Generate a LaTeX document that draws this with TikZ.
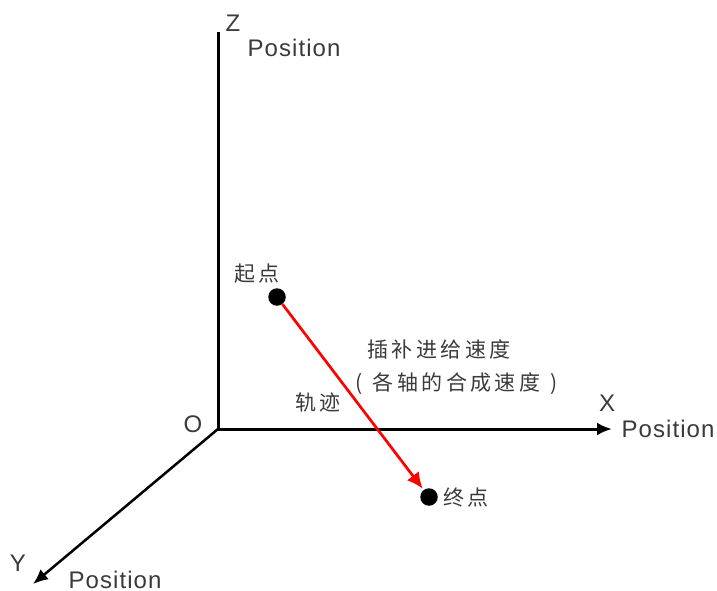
\documentclass[tikz,border=0pt]{standalone}
\usepackage{fontspec}
\setmainfont[LetterSpace=4.5]{Liberation Sans}
\newfontfamily\cjkfont[LetterSpace=16]{Noto Sans CJK SC}
\usepackage{tikz}
\usetikzlibrary{positioning,arrows.meta}
\definecolor{labelgray}{HTML}{3A3A3A}
\tikzset{
axisline/.style={line width=3pt,black,-{Latex[length=15pt,width=13pt]}},
axisnoarrow/.style={line width=3pt,black},
trajline/.style={line width=2.7pt,red,shorten >=1.5pt,-{Latex[length=16pt,width=15pt]}},
pointdot/.style={circle,fill=black,minimum size=17.5pt,inner sep=0pt},
axislabel/.style={font=\fontsize{24pt}{26pt}\selectfont,text=labelgray,inner sep=0pt},
cjklabel/.style={font=\fontsize{21pt}{24pt}\selectfont\cjkfont,text=labelgray,inner sep=0pt}
}
\begin{document}
\begin{tikzpicture}[x=1pt,y=-1pt]
\useasboundingbox (0,0) rectangle (717,590);
\coordinate (origin) at (218,429);
\coordinate (ztop) at (218,32);
\coordinate (xend) at (612,429);
\coordinate (yend) at (33,584);
\draw[axisnoarrow] (origin) -- (ztop);
\draw[axisline] (origin) -- (xend);
\draw[axisline,line width=2.5pt] (origin) -- (yend);
\node[pointdot] (startpt) at (277,297) {};
\node[pointdot] (endpt) at (429,497) {};
\draw[trajline] (startpt) -- (endpt);
\node[axislabel] (olabel) at (193,424) {O};
\node[axislabel] (zlabel) at (233,23) {Z};
\node[axislabel] (zpos) at (294,48) {Position};
\node[axislabel] (xlabel) at (607,403) {X};
\node[axislabel] (xpos) at (668,429) {Position};
\node[axislabel] (ylabel) at (18,563) {Y};
\node[axislabel] (ypos) at (115,580) {Position};
\node[cjklabel] (startlabel) at (257,274) {起点};
\node[cjklabel] (endlabel) at (466,497) {终点};
\node[cjklabel] (trajlabel) at (318,403) {轨迹};
\node[cjklabel] (speedlabel) at (439,349) {插补进给速度};
\node[cjklabel] (sublabel) at (456.5,384) {(\hspace{2pt} 各轴的合成速度 \hspace{2pt})};
\end{tikzpicture}
\end{document}
